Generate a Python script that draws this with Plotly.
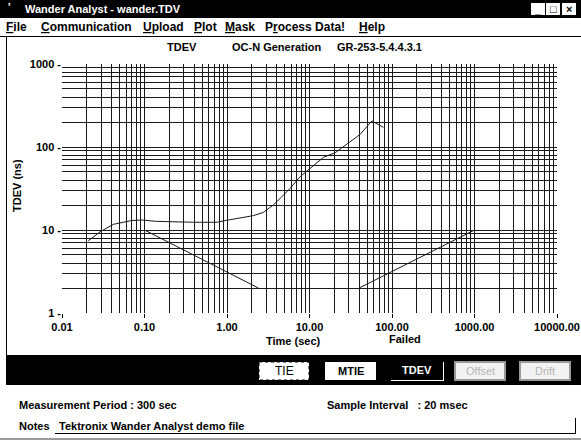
import plotly.graph_objects as go

# ---- data ----
tdev_time = [0.0208, 0.0289, 0.0419, 0.070, 0.0926, 0.141, 0.391, 0.752, 0.995,
             2.09, 2.76, 3.65, 4.62, 5.83, 7.7, 10.2, 14.8, 20.5, 29.7, 41.1, 57, 78.9]
tdev_ns = [7.4, 9.5, 11.7, 13.0, 13.2, 12.7, 12.4, 12.4, 13.1,
           14.9, 16.3, 20.0, 25.2, 31.8, 43.9, 55.4, 75.2, 85.4, 112.7, 142, 206, 172]
mask_low_time = [0.1, 2.4]
mask_low_ns = [10, 2]
mask_high_time = [40, 1000]
mask_high_ns = [2, 10]

x_tick_vals = [0.01, 0.1, 1, 10, 100, 1000, 10000]
x_tick_text = ["0.01", "0.10", "1.00", "10.00", "100.00", "1000.00", "10000.00"]
y_tick_vals = [1, 10, 100, 1000]
y_tick_text = ["1", "10", "100", "1000"]

x_grid = [m * 10 ** d for d in range(-2, 4) for m in range(2, 11)]
y_grid = [m * 10 ** d for d in range(0, 3) for m in range(2, 11)]

FONT = "Liberation Sans"
W, H = 581, 441
L, R, T, B = 62, 24, 64, 128
PW, PH = W - L - R, H - T - B
LINE = "#1a1a1a"


def px(x):
    return (x - L) / PW


def py(y):
    return 1 - (y - T) / PH


fig = go.Figure()
for xs, ys in [(tdev_time, tdev_ns), (mask_low_time, mask_low_ns), (mask_high_time, mask_high_ns)]:
    fig.add_trace(go.Scatter(x=xs, y=ys, mode="lines", line=dict(color=LINE, width=1),
                             showlegend=False, hoverinfo="skip"))

shapes = []
annots = []


def rect(x0, y0, x1, y1, fill=None, line=None, lw=1, dash=None, layer="above"):
    d = dict(type="rect", xref="paper", yref="paper",
             x0=px(x0), x1=px(x1), y0=py(y0), y1=py(y1), layer=layer,
             fillcolor=fill if fill else "rgba(0,0,0,0)",
             line=dict(color=line if line else "rgba(0,0,0,0)", width=lw if line else 0))
    if dash:
        d["line"]["dash"] = dash
    shapes.append(d)


def hline(x0, x1, y, color="black", lw=1):
    shapes.append(dict(type="line", xref="paper", yref="paper", x0=px(x0), x1=px(x1),
                       y0=py(y), y1=py(y), line=dict(color=color, width=lw)))


def vline(x, y0, y1, color="black", lw=1):
    shapes.append(dict(type="line", xref="paper", yref="paper", x0=px(x), x1=px(x),
                       y0=py(y0), y1=py(y1), line=dict(color=color, width=lw)))


def text(x, y, s, size=11, color="black", bold=True, xanchor="center", angle=0):
    annots.append(dict(xref="paper", yref="paper", x=px(x), y=py(y), text=s,
                       showarrow=False, xanchor=xanchor, yanchor="middle", textangle=angle,
                       font=dict(family=FONT, size=size, color=color,
                                 weight="bold" if bold else "normal")))


# title bar
rect(0, 0, W, 18, fill="black", layer="below")
text(6, 7, "'", color="white", xanchor="left")
text(23, 9, "Wander Analyst - wander.TDV", color="white", xanchor="left")
for bx, sym in [(531, "_"), (546, "□"), (562, "×")]:
    rect(bx, 3, bx + 14, 15, fill="white")
    text(bx + 7, 9, sym, size=11, color="black")

# menu bar
menu = [(4, "<u>F</u>ile"), (39, "<u>C</u>ommunication"), (141, "<u>U</u>pload"),
        (192, "<u>P</u>lot"), (223, "<u>M</u>ask"), (263, "P<u>r</u>ocess Data!"), (357, "<u>H</u>elp")]
for mx, s in menu:
    text(mx, 27, s, size=12, xanchor="left")
hline(0, W, 36.5)

# panel frame
vline(6.5, 37, 356)

# chart titles
text(182, 47, "TDEV")
text(277, 47, "OC-N Generation")
text(379, 47, "GR-253-5.4.4.3.1")
text(17, 186, "TDEV (ns)", angle=-90)
text(293, 341, "Time (sec)")
text(405, 339, "Failed")

# toolbar
rect(6, 355, W, 385, fill="black", layer="below")
rect(259, 362, 309, 380, fill="white", line="black", dash="dot")
text(284, 371, "TIE", bold=False, size=12)
rect(325, 362, 376, 380, fill="white")
text(350.5, 371, "MTIE")
hline(391, 444, 380.5, color="white")
vline(443.5, 362, 381, color="white")
text(417, 370, "TDEV", color="white")
for bx, s in [(455, "Offset"), (520, "Drift")]:
    rect(bx, 362, bx + 50, 380, fill="#f2f2f2", line="#9a9a9a", lw=2)
    text(bx + 25, 371, s, color="#b5b5b5", bold=False)

# info panel
text(17, 405, "Measurement Period : 300 sec", xanchor="left")
text(325, 405, "Sample Interval   : 20 msec", xanchor="left")
text(17, 426, "Notes", xanchor="left")
text(57, 426, "Tektronix Wander Analyst demo file", xanchor="left")
hline(55, 576, 433.5)
vline(575.5, 418, 434)
hline(0, W, 439, color="#9a9a9a", lw=2)

axis_common = dict(type="log", showline=False, zeroline=False, showgrid=False,
                   ticks="outside", ticklen=4, tickcolor="black", tickwidth=1,
                   tickfont=dict(family=FONT, size=11, color="black", weight="bold"),
                   fixedrange=True, automargin=False)

fig.update_layout(
    width=W, height=H,
    margin=dict(l=L, r=R, t=T, b=B, pad=0, autoexpand=False),
    paper_bgcolor="white", plot_bgcolor="white",
    xaxis=dict(range=[-2, 4], tickvals=x_tick_vals, ticktext=x_tick_text,
               minor=dict(tickvals=x_grid, showgrid=True, gridcolor=LINE, gridwidth=1, ticks=""),
               **axis_common),
    yaxis=dict(range=[0, 3], tickvals=y_tick_vals, ticktext=[t + " -" for t in y_tick_text],
               minor=dict(tickvals=y_grid, showgrid=True, gridcolor=LINE, gridwidth=1, ticks=""),
               **{**axis_common, "ticks": ""}),
    shapes=shapes, annotations=annots,
    font=dict(family=FONT, size=11, color="black"),
)

fig.write_html("out.html", config=dict(displayModeBar=False, staticPlot=True),
               post_script="document.body.style.margin='0';document.body.style.overflow='hidden';")
